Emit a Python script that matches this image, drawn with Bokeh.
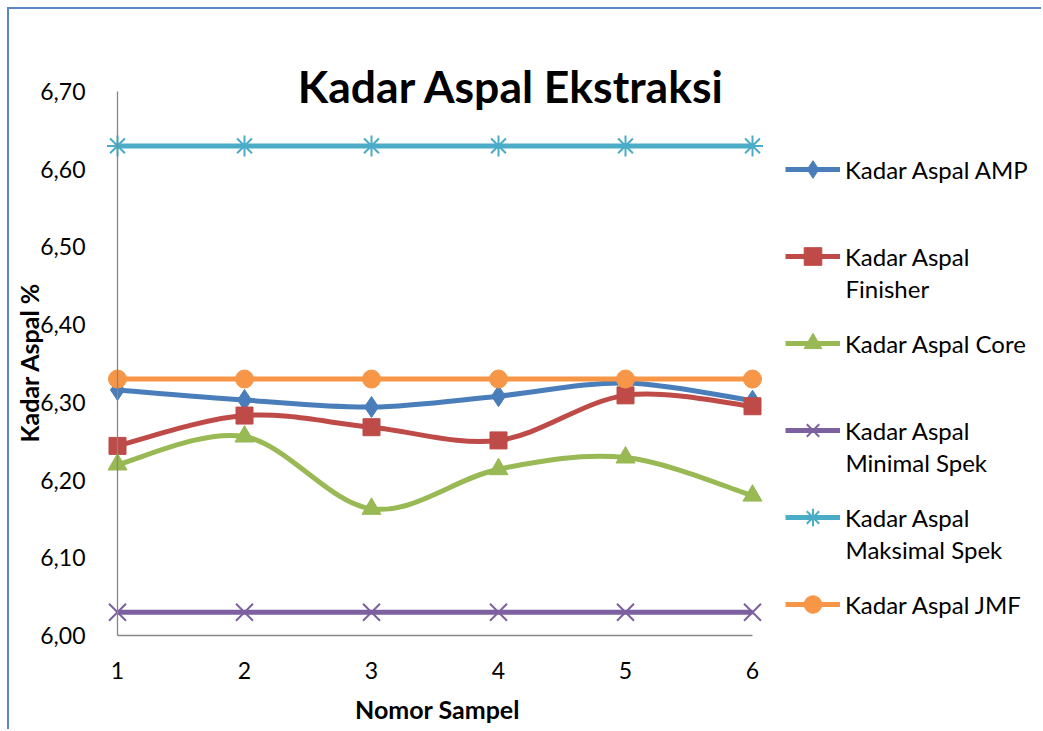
import math
from bokeh.plotting import figure
from bokeh.models import Range1d, FixedTicker, Legend, LegendItem, Label
from bokeh.embed import file_html
from bokeh.resources import INLINE

# ---------------- data ----------------
samples = [1, 2, 3, 4, 5, 6]
amp = [6.316, 6.303, 6.294, 6.308, 6.325, 6.302]
finisher = [6.244, 6.283, 6.268, 6.251, 6.309, 6.295]
core = [6.220, 6.256, 6.163, 6.214, 6.229, 6.180]
min_spek = [6.03, 6.03, 6.03, 6.03, 6.03, 6.03]
maks_spek = [6.63, 6.63, 6.63, 6.63, 6.63, 6.63]
jmf = [6.33, 6.33, 6.33, 6.33, 6.33, 6.33]

y_ticks = [6.0, 6.1, 6.2, 6.3, 6.4, 6.5, 6.6, 6.7]
y_tick_labels = ["6,00", "6,10", "6,20", "6,30", "6,40", "6,50", "6,60", "6,70"]
x_ticks = [1, 2, 3, 4, 5, 6]

series_names = [
    ("Kadar Aspal AMP", None),
    ("Kadar Aspal", "Finisher"),
    ("Kadar Aspal Core", None),
    ("Kadar Aspal", "Minimal Spek"),
    ("Kadar Aspal", "Maksimal Spek"),
    ("Kadar Aspal JMF", None),
]
title_text = "Kadar Aspal Ekstraksi"
x_label = "Nomor Sampel"
y_label = "Kadar Aspal %"

# ---------------- style / layout ----------------
FONT = "Lato"
C_BLUE = "#4a7ebb"
C_RED = "#be4b48"
C_GREEN = "#98b954"
C_PURPLE = "#7d60a0"
C_CYAN = "#4aacc6"
C_ORANGE = "#f79646"
AXIS_C = "#868686"
LW = 5

W, H = 1034, 722              # canvas (page offset 9 px: 7 px margin + 2 px border)
AX_L, AX_R = 108, 743         # canvas x of sample 1 and sample 6
AX_T, AX_B = 82, 626          # canvas y of 6.70 and 6.00
X0, X1 = 1, 6
Y0, Y1 = 6.0, 6.7
px_x = (AX_R - AX_L) / (X1 - X0)
px_y = (AX_B - AX_T) / (Y1 - Y0)
x_start = X0 - AX_L / px_x
x_end = X1 + (W - AX_R) / px_x
y_start = Y0 - (H - AX_B) / px_y
y_end = Y1 + AX_T / px_y


def sy(canvas_y):
    """canvas y (from top) -> screen units used by annotations (from frame bottom)."""
    return H - canvas_y


def smooth(xs, ys):
    """Bezier segments (Excel-style smoothed line) through the data points."""
    n = len(xs)
    out = dict(x0=[], y0=[], x1=[], y1=[], cx0=[], cy0=[], cx1=[], cy1=[])
    for i in range(n - 1):
        a = i - 1 if i > 0 else i
        d = i + 2 if i + 2 < n else i + 1
        out["x0"].append(xs[i]); out["y0"].append(ys[i])
        out["x1"].append(xs[i + 1]); out["y1"].append(ys[i + 1])
        out["cx0"].append(xs[i] + (xs[i + 1] - xs[a]) / 6.0)
        out["cy0"].append(ys[i] + (ys[i + 1] - ys[a]) / 6.0)
        out["cx1"].append(xs[i + 1] - (xs[d] - xs[i]) / 6.0)
        out["cy1"].append(ys[i + 1] - (ys[d] - ys[i]) / 6.0)
    return out


p = figure(width=W, height=H, x_range=Range1d(x_start, x_end), y_range=Range1d(y_start, y_end),
           output_backend="svg", toolbar_location=None,
           min_border_left=0, min_border_right=0, min_border_top=0, min_border_bottom=0)
p.styles = {"margin-left": "7px", "margin-top": "7px",
            "border-left": "2px solid #5b87c8", "border-top": "2px solid #5b87c8"}
p.outline_line_color = None
p.xgrid.visible = False
p.ygrid.visible = False
p.background_fill_color = "white"
p.border_fill_color = "white"

for ax in (p.xaxis[0], p.yaxis[0]):
    ax.axis_line_color = AXIS_C
    ax.axis_line_width = 1.3
    ax.major_tick_line_color = None
    ax.minor_tick_line_color = None
    ax.major_tick_out = 0
    ax.major_tick_in = 0
    ax.major_label_text_font = FONT
    ax.major_label_text_font_size = "23px"
    ax.major_label_text_color = "black"

p.xaxis.ticker = FixedTicker(ticks=x_ticks)
p.yaxis.ticker = FixedTicker(ticks=y_ticks)
p.xaxis.bounds = (X0, X1)
p.yaxis.bounds = (Y0, Y1)
p.xaxis.fixed_location = Y0
p.yaxis.fixed_location = X0
p.yaxis.major_label_overrides = dict(zip(y_ticks, y_tick_labels))
p.yaxis.major_label_standoff = 32
p.xaxis.major_label_standoff = 26

# axis titles
p.add_layout(Label(x=428, y=sy(699), x_units="screen", y_units="screen", text=x_label,
                   text_font=FONT, text_font_size="25px", text_font_style="bold", text_color="black",
                   text_align="center", text_baseline="middle"))
p.add_layout(Label(x=19.5, y=sy(353), x_units="screen", y_units="screen", text=y_label, angle=math.pi / 2,
                   text_font=FONT, text_font_size="25px", text_font_style="bold", text_color="black",
                   text_align="center", text_baseline="middle"))

# ---------------- series ----------------
def bez(src, color):
    return p.bezier(source=src, x0="x0", y0="y0", x1="x1", y1="y1",
                    cx0="cx0", cy0="cy0", cx1="cx1", cy1="cy1", line_color=color, line_width=LW)

r_amp = bez(smooth(samples, amp), C_BLUE)
m_amp = p.scatter(samples, amp, marker="diamond", size=21, fill_color=C_BLUE, line_color=C_BLUE)

r_fin = bez(smooth(samples, finisher), C_RED)
m_fin = p.scatter(samples, finisher, marker="square", size=17, fill_color=C_RED, line_color=C_RED)

r_core = bez(smooth(samples, core), C_GREEN)
m_core = p.scatter(samples, core, marker="triangle", size=19, fill_color=C_GREEN, line_color=C_GREEN)

r_min = p.line(samples, min_spek, line_color=C_PURPLE, line_width=LW)
m_min = p.scatter(samples, min_spek, marker="x", size=24, line_color=C_PURPLE, line_width=2)

r_max = p.line(samples, maks_spek, line_color=C_CYAN, line_width=LW)
m_max = p.scatter(samples, maks_spek, marker="asterisk", size=21, line_color=C_CYAN, line_width=2)

r_jmf = p.line(samples, jmf, line_color=C_ORANGE, line_width=LW)
m_jmf = p.scatter(samples, jmf, marker="circle", size=18, fill_color=C_ORANGE, line_color=C_ORANGE)

# ---------------- legend ----------------
pairs = [(r_amp, m_amp), (r_fin, m_fin), (r_core, m_core),
         (r_min, m_min), (r_max, m_max), (r_jmf, m_jmf)]
items = [LegendItem(label=nm[0], renderers=list(rr)) for nm, rr in zip(series_names, pairs)]

LEG_FS = "24px"
GH, SP, GW, STAND = 44, 43, 55, 5
LEG_LEFT = 776                 # legend left, canvas px
LEG_TOP = 138                  # legend top, canvas px
leg_h = len(items) * GH + (len(items) - 1) * SP
legend = Legend(items=items, location=(LEG_LEFT, sy(LEG_TOP + leg_h)), orientation="vertical",
                glyph_width=GW, glyph_height=GH, spacing=SP, label_standoff=STAND,
                label_text_font=FONT, label_text_font_size=LEG_FS, label_text_color="black",
                padding=0, margin=0, border_line_color=None, background_fill_alpha=0)
p.add_layout(legend)

# second lines of the two-line legend labels
for i, (first, second) in enumerate(series_names):
    if second is None:
        continue
    centre = LEG_TOP + i * (GH + SP) + GH / 2 + 32
    p.add_layout(Label(x=LEG_LEFT + GW + STAND, y=sy(centre), x_units="screen", y_units="screen",
                       text=second, text_font=FONT, text_font_size=LEG_FS, text_color="black",
                       text_align="left", text_baseline="middle"))

# ---------------- title ----------------
p.add_layout(Label(x=502, y=sy(76), x_units="screen", y_units="screen", text=title_text,
                   text_font=FONT, text_font_size="44.5px", text_font_style="bold",
                   text_color="black", text_align="center", text_baseline="middle"))

open("out.html", "w").write(file_html(p, INLINE))
